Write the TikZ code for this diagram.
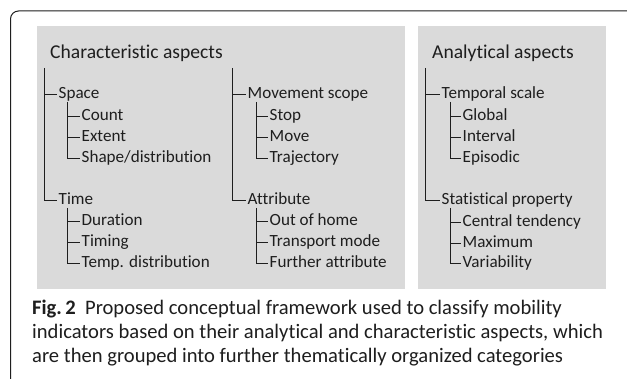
\documentclass[tikz,border=0pt]{standalone}
\usepackage{fontspec}
\setmainfont{Carlito}[Ligatures=NoCommon]
\begin{document}
\definecolor{panel}{RGB}{218,218,218}
\definecolor{ink}{RGB}{30,30,30}
\begin{tikzpicture}[x=1pt,y=-1pt,
  ttl/.style={anchor=base west,inner sep=0pt,font=\fontsize{19.6}{22}\selectfont,text=ink},
  item/.style={anchor=west,inner xsep=1.5pt,inner ysep=0pt,text height=12pt,text depth=2pt,
    font=\fontsize{17.1}{20}\selectfont,text=ink},
  tree/.style={draw=ink,line width=0.9pt},
  captext/.style={anchor=base west,inner sep=0pt,font=\fontsize{20.6}{24}\selectfont,text=ink}]
\useasboundingbox (0,0) rectangle (627,379);
\fill[white] (0,0) rectangle (627,379);
% outer frame
\draw[ink,line width=1pt,rounded corners=8pt] (10.5,390) -- (10.5,11) -- (640,11);
% panels
\fill[panel] (37,26) rectangle (405,289);
\fill[panel] (418,26) rectangle (606,289);
% titles
\node[ttl] (ca) at (50,59) {Characteristic aspects};
\node[ttl] (aa) at (432,59) {Analytical aspects};
% column 1
\node[item] (space) at (57,94) {Space};
\node[item] (count) at (80,116) {Count};
\node[item] (extent) at (80,137) {Extent};
\node[item] (shape) at (80,158) {Shape/distribution};
\node[item] (time) at (57,200) {Time};
\node[item] (dur) at (80,221) {Duration};
\node[item] (timing) at (80,242) {Timing};
\node[item] (tdist) at (80,263) {Temp. distribution};
% column 2
\node[item] (mov) at (246,94) {Movement scope};
\node[item] (stop) at (268,116) {Stop};
\node[item] (move) at (268,137) {Move};
\node[item] (traj) at (268,158) {Trajectory};
\node[item] (attr) at (246,200) {Attribute};
\node[item] (ooh) at (268,221) {Out of home};
\node[item] (tm) at (268,242) {Transport mode};
\node[item] (fa) at (268,263) {Further attribute};
% column 3
\node[item] (tsc) at (440,94) {Temporal scale};
\node[item] (glob) at (461,116) {Global};
\node[item] (intv) at (461,137) {Interval};
\node[item] (epi) at (461,158) {Episodic};
\node[item] (stat) at (440,200) {Statistical property};
\node[item] (cent) at (461,222) {Central tendency};
\node[item] (maxi) at (461,243) {Maximum};
\node[item] (vari) at (461,263) {Variability};
% trunk tops
\coordinate (k1) at (44.5,68);
\coordinate (k2) at (232.5,68);
\coordinate (k3) at (425.5,68);
\coordinate (s1) at (67,102);
\coordinate (s2) at (67,208);
\coordinate (s3) at (256,102);
\coordinate (s4) at (256,208);
\coordinate (s5) at (450,102);
\coordinate (s6) at (450,208);
% trunks
\draw[tree] (k1) |- (time.west);  \draw[tree] (k1 |- space.west) -- (space.west);
\draw[tree] (k2) |- (attr.west);  \draw[tree] (k2 |- mov.west) -- (mov.west);
\draw[tree] (k3) |- (stat.west);  \draw[tree] (k3 |- tsc.west) -- (tsc.west);
% branches
\draw[tree] (s1) |- (shape.west);
\draw[tree] (s1 |- count.west) -- (count.west);
\draw[tree] (s1 |- extent.west) -- (extent.west);
\draw[tree] (s2) |- (tdist.west);
\draw[tree] (s2 |- dur.west) -- (dur.west);
\draw[tree] (s2 |- timing.west) -- (timing.west);
\draw[tree] (s3) |- (traj.west);
\draw[tree] (s3 |- stop.west) -- (stop.west);
\draw[tree] (s3 |- move.west) -- (move.west);
\draw[tree] (s4) |- (fa.west);
\draw[tree] (s4 |- ooh.west) -- (ooh.west);
\draw[tree] (s4 |- tm.west) -- (tm.west);
\draw[tree] (s5) |- (epi.west);
\draw[tree] (s5 |- glob.west) -- (glob.west);
\draw[tree] (s5 |- intv.west) -- (intv.west);
\draw[tree] (s6) |- (vari.west);
\draw[tree] (s6 |- cent.west) -- (cent.west);
\draw[tree] (s6 |- maxi.west) -- (maxi.west);
% caption
\node[captext] (c1) at (32,315) {\textbf{Fig.\,2}\hspace{0.45em}Proposed conceptual framework used to classify mobility};
\node[captext] (c2) at (32,339) {indicators based on their analytical and characteristic aspects, which};
\node[captext] (c3) at (32,363) {are then grouped into further thematically organized categories};
\end{tikzpicture}
\end{document}
